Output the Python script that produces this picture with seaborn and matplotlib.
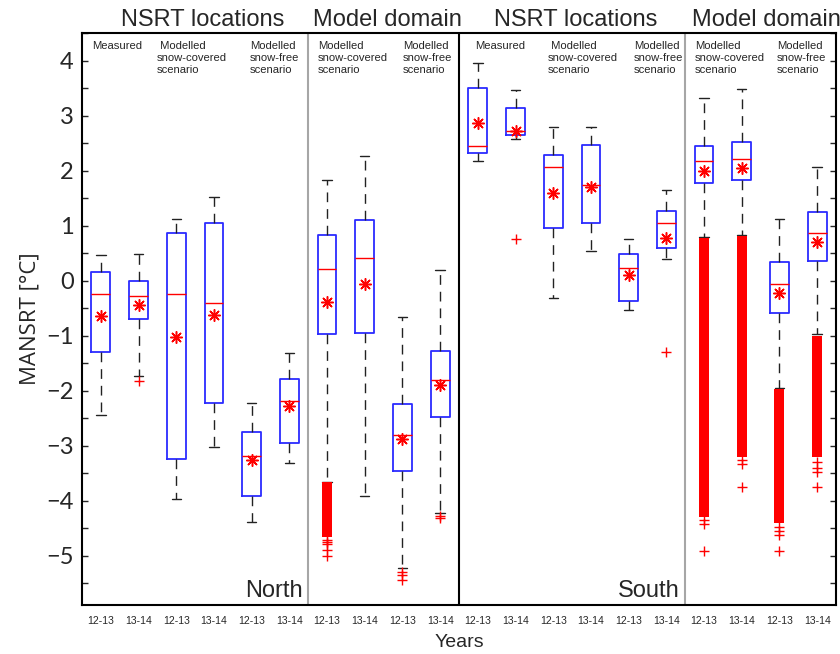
import matplotlib
matplotlib.use("Agg")
import matplotlib.pyplot as plt
import seaborn as sns
import numpy as np
import pandas as pd

# ---------------- data ----------------
year_labels = ["12-13", "13-14"] * 10
whishi = [0.47, 0.48, 1.12, 1.51, -2.22, -1.31, 1.82, 2.27, -0.67, 0.19,
          3.95, 3.47, 2.80, 2.79, 0.75, 1.65, 3.32, 3.48, 1.12, 2.07]
q3 = [0.16, 0.00, 0.87, 1.04, -2.75, -1.79, 0.82, 1.10, -2.24, -1.28,
      3.50, 3.14, 2.28, 2.46, 0.48, 1.27, 2.44, 2.52, 0.33, 1.24]
median = [-0.24, -0.29, -0.24, -0.41, -3.19, -2.19, 0.21, 0.41, -2.80, -1.80,
          2.45, 2.72, 2.07, 1.74, 0.22, 1.04, 2.18, 2.21, -0.06, 0.86]
q1 = [-1.30, -0.70, -3.25, -2.22, -3.92, -2.96, -0.97, -0.96, -3.47, -2.49,
      2.32, 2.65, 0.95, 1.04, -0.38, 0.59, 1.78, 1.83, -0.59, 0.35]
whislo = [-2.44, -1.73, -3.98, -3.02, -4.39, -3.31, -3.66, -3.92, -5.22, -4.23,
          2.18, 2.58, -0.32, 0.53, -0.54, 0.39, 0.80, 0.83, -1.96, -0.98]
mean = [-0.65, -0.45, -1.03, -0.62, -3.27, -2.28, -0.39, -0.07, -2.88, -1.90,
        2.87, 2.71, 1.60, 1.70, 0.10, 0.78, 1.99, 2.05, -0.22, 0.70]
# individual outliers (+) per box
fliers = [[], [-1.83], [], [], [], [], [-4.71, -4.75, -4.79, -4.90, -5.00], [],
          [-5.30, -5.36, -5.44], [-4.28, -4.32],
          [], [0.76], [], [], [], [-1.30],
          [-4.36, -4.42, -4.92], [-3.27, -3.33, -3.76],
          [-4.48, -4.55, -4.62, -4.92], [-3.30, -3.40, -3.48, -3.75]]
# ranges completely covered by thousands of outlier markers (top, bottom)
dense_top = [None, None, None, None, None, None, -3.67, None, None, None,
             None, None, None, None, None, None, 0.78, 0.81, -1.98, -1.00]
dense_bottom = [None, None, None, None, None, None, -4.67, None, None, None,
                None, None, None, None, None, None, -4.30, -3.20, -4.40, -3.20]

group_titles = ["NSRT locations", "Model domain", "NSRT locations", "Model domain"]
scenario_labels = ["Measured", " Modelled\nsnow-covered\nscenario",
                   "Modelled\nsnow-free\nscenario",
                   "Modelled\nsnow-covered\nscenario",
                   "Modelled\nsnow-free\nscenario"] * 2

# ---------------- figure ----------------
sns.set_style("white")
plt.rcParams["font.family"] = ["Liberation Sans", "DejaVu Sans"]

fig = plt.figure(figsize=(8.4, 6.54), dpi=100)
ax = fig.add_axes([82 / 840, 1 - 605 / 654, (836 - 82) / 840, (605 - 33) / 654])

positions = np.arange(1, len(median) + 1)
stats = []
for i in range(len(median)):
    stats.append(dict(med=median[i], q1=q1[i], q3=q3[i],
                      whislo=whislo[i], whishi=whishi[i], fliers=[]))

ax.bxp(stats, positions=positions, widths=0.5, capwidths=0.25,
       showfliers=False, manage_ticks=False,
       boxprops=dict(color="#2b2bff", linewidth=1.3),
       whiskerprops=dict(color="#222222", linewidth=1.0, linestyle=(0, (7, 5))),
       capprops=dict(color="#222222", linewidth=1.0),
       medianprops=dict(color="red", linewidth=1.0))

# dense outlier ranges
for p, t, b in zip(positions, dense_top, dense_bottom):
    if t is not None:
        ax.vlines(p, b, t, colors="red", linewidth=7.2, zorder=4)

# individual outliers
fx = [p for p, fl in zip(positions, fliers) for _ in fl]
fy = [v for fl in fliers for v in fl]
sns.scatterplot(x=fx, y=fy, marker="+", color="red", s=55, linewidth=1.0,
                ax=ax, zorder=5, legend=False)

# means
sns.scatterplot(x=positions, y=mean, marker=(8, 2, 0), color="red", s=70,
                linewidth=1.1, ax=ax, zorder=6, legend=False)

# separators
ax.axvline(6.5, color="#a6a6a6", linewidth=1.5, zorder=1)
ax.axvline(10.5, color="black", linewidth=1.5, zorder=1)
ax.axvline(16.5, color="#a6a6a6", linewidth=1.5, zorder=1)

ax.set_xlim(0.5, 20.5)
ax.set_ylim(-5.9, 4.5)

ax.set_yticks(np.arange(-5, 5, 1))
ax.set_yticks(np.arange(-5.5, 4.6, 0.5), minor=True)
ax.set_xticks(positions)
ax.set_xticklabels(year_labels, fontsize=7.5)
ax.tick_params(axis="x", length=0, pad=8)
ax.tick_params(axis="y", which="both", direction="in", left=True, right=True,
               length=4, width=1.0, labelsize=17, pad=6)
for lab in ax.get_yticklabels():
    lab.set_family(["Lato", "DejaVu Sans"])

for s in ax.spines.values():
    s.set_linewidth(1.5)
    s.set_color("black")

ax.set_ylabel("MANSRT [°C]", fontsize=16, labelpad=4, family=["Open Sans", "DejaVu Sans"])
ax.set_xlabel("Years", fontsize=14, labelpad=6)

trans = ax.get_xaxis_transform()
title_x = [3.5 + 0.2, 8.5 + 0.1, 13.5 + 0.1, 18.5 + 0.15]
for tx, tt in zip(title_x, group_titles):
    ax.text(tx, 1.013, tt, transform=trans, ha="center", va="baseline", fontsize=17)

label_x = [0.77, 2.48, 4.96, 6.76, 9.01, 10.92, 12.85, 15.14, 16.76, 18.93]
for lx, lt in zip(label_x, scenario_labels):
    ax.text(lx, 0.986, lt, transform=trans, ha="left", va="top", fontsize=8.1,
            linespacing=1.25)

ax.text(6.36, 0.014, "North", transform=trans, ha="right", va="baseline", fontsize=17)
ax.text(16.36, 0.014, "South", transform=trans, ha="right", va="baseline", fontsize=17)

fig.savefig("out.png", dpi=100)
